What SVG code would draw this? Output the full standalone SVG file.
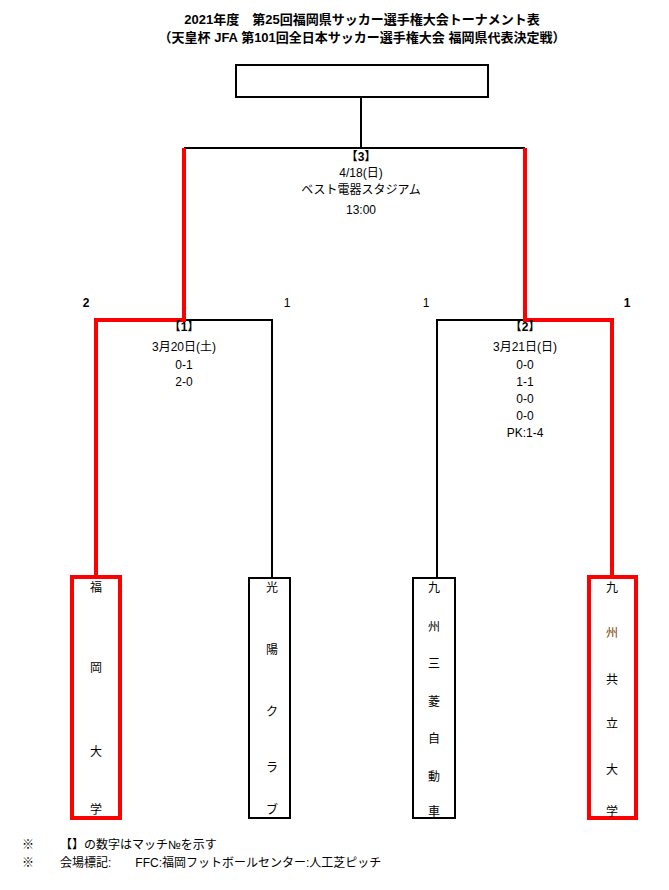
<svg xmlns="http://www.w3.org/2000/svg" width="669" height="890" viewBox="0 0 669 890">
<style>
text{font-family:"Liberation Sans","Noto Sans CJK JP",sans-serif;font-size:12px;fill:#000}
.c{text-anchor:middle}
.b{font-weight:bold}
.k{fill:none;stroke:#000;stroke-width:2}
.r{fill:none;stroke:#f00;stroke-width:4}
</style>
<rect width="669" height="890" fill="#fff"/>
<text class="c b" x="362" y="24" style="font-size:13px">2021年度　第25回福岡県サッカー選手権大会トーナメント表</text>
<text class="c b" x="362" y="42" style="font-size:13px">（天皇杯 JFA 第101回全日本サッカー選手権大会 福岡県代表決定戦）</text>
<g id="connectors">
<path class="k" d="M361 97V148M184 148H525M184 320H272V577M525 320H437V577"/>
<path class="r" d="M184 148V320H96V577M525 148V320H612V577"/>
</g>
<g id="winner"><rect class="k" x="236" y="65" width="252" height="32"/></g>
<g id="m3"><text class="c b" x="361" y="161">【3】</text><text class="c" x="361" y="177">4/18(日)</text><text class="c" x="361" y="194">ベスト電器スタジアム</text><text class="c" x="361" y="214">13:00</text></g>
<g id="m1"><text class="c b" x="184" y="331">【1】</text><text class="c" x="184" y="351">3月20日(土)</text><text class="c" x="184" y="369">0-1</text><text class="c" x="184" y="386">2-0</text></g>
<g id="m2"><text class="c b" x="525" y="331">【2】</text><text class="c" x="525" y="351">3月21日(日)</text><text class="c" x="525" y="369">0-0</text><text class="c" x="525" y="386">1-1</text><text class="c" x="525" y="403">0-0</text><text class="c" x="525" y="420">0-0</text><text class="c" x="525" y="437">PK:1-4</text></g>
<g id="scores"><text class="c b" x="86" y="307">2</text><text class="c" x="287" y="307">1</text><text class="c" x="426" y="307">1</text><text class="c b" x="627" y="307">1</text></g>
<g id="t1"><rect class="r" x="72" y="577" width="48" height="241"/>
<text class="c" x="96" y="592">福</text><text class="c" x="96" y="672">岡</text><text class="c" x="96" y="756">大</text><text class="c" x="96" y="814">学</text></g>
<g id="t2"><rect class="k" x="249" y="578" width="41" height="240"/>
<text class="c" x="272" y="592">光</text><text class="c" x="272" y="654">陽</text><text class="c" x="272" y="716">ク</text><text class="c" x="272" y="772">ラ</text><text class="c" x="272" y="814">ブ</text></g>
<g id="t3"><rect class="k" x="413" y="578" width="42" height="240"/>
<text class="c" x="434" y="592">九</text><text class="c" x="434" y="631">州</text><text class="c" x="434" y="668">三</text><text class="c" x="434" y="706">菱</text><text class="c" x="434" y="743">自</text><text class="c" x="434" y="781">動</text><text class="c" x="434" y="816">車</text></g>
<g id="t4"><rect class="r" x="589" y="577" width="47" height="241"/>
<text class="c" x="612" y="592">九</text><text class="c" x="612" y="637" style="fill:#7a3d00">州</text><text class="c" x="612" y="684">共</text><text class="c" x="612" y="728">立</text><text class="c" x="612" y="774">大</text><text class="c" x="612" y="816">学</text></g>
<text x="22" y="849">※</text><text x="60" y="849">【】の数字はマッチ№を示す</text>
<text x="22" y="867">※</text><text x="60" y="867">会場標記:　　FFC:福岡フットボールセンター:人工芝ピッチ</text>
</svg>
